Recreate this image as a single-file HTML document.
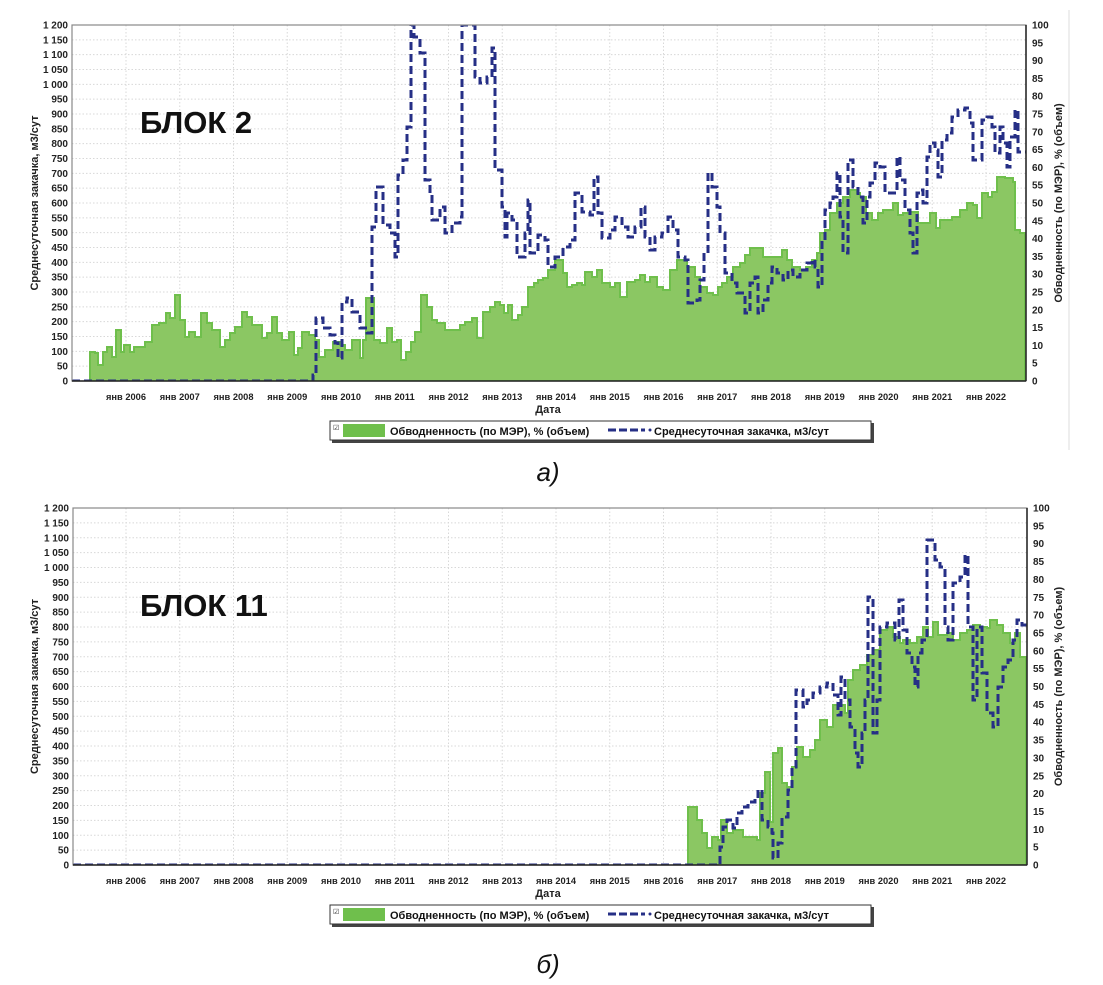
<!DOCTYPE html>
<html><head><meta charset="utf-8"><style>
html,body{margin:0;padding:0;background:#fff;}
svg{display:block;font-family:"Liberation Sans",sans-serif;}
</style></head><body>
<svg id="s" width="1103" height="985" xmlns="http://www.w3.org/2000/svg"></svg>
<script>
const S=document.getElementById('s');let h='';
const ga=[[90,352],[95,353],[98,365],[103,352],[107,347],[112,357],[116,330],[121,352],[124,345],[130,352],[134,347],[145,342],[152,325],[159,323],[166,313],[170,318],[175,295],[180,320],[185,337],[189,332],[195,337],[201,313],[207,323],[212,330],[220,347],[225,340],[230,333],[235,327],[242,312],[247,317],[252,325],[262,338],[267,333],[272,317],[277,333],[282,340],[289,332],[294,355],[298,348],[302,332],[309,335],[315,340],[319,357],[325,350],[333,342],[340,345],[345,350],[352,340],[360,358],[363,340],[366,298],[374,340],[380,343],[387,328],[392,342],[397,340],[401,360],[406,352],[411,342],[415,332],[421,295],[427,307],[432,320],[437,323],[445,330],[460,325],[465,322],[472,318],[477,338],[483,312],[490,307],[495,302],[500,305],[504,313],[508,305],[512,320],[518,315],[522,307],[528,287],[534,283],[538,280],[543,278],[548,270],[555,260],[563,273],[567,287],[572,285],[577,283],[582,285],[585,272],[592,277],[597,270],[602,283],[610,287],[615,283],[620,297],[627,282],[635,280],[640,275],[645,282],[650,277],[657,287],[663,290],[670,270],[677,260],[687,267],[695,277],[700,287],[707,293],[713,295],[718,287],[722,283],[727,277],[733,267],[740,263],[745,255],[750,248],[763,257],[777,257],[782,250],[787,260],[792,267],[800,270],[806,267],[812,260],[817,253],[820,233],[825,230],[830,213],[837,203],[843,197],[850,190],[857,193],[860,197],[866,213],[872,220],[878,213],[883,210],[893,203],[898,215],[903,213],[910,212],[918,223],[930,213],[936,228],[940,220],[952,217],[960,210],[967,203],[973,205],[977,218],[982,193],[988,197],[992,192],[997,177],[1005,178],[1013,182],[1015,230],[1020,233],[1025,233]];
const ba=[[72,381],[313,375],[316,318],[323,328],[330,335],[335,343],[338,358],[342,302],[347,298],[352,312],[360,328],[367,333],[372,227],[376,187],[383,225],[390,233],[395,257],[398,175],[403,160],[407,127],[411,25],[414,37],[420,53],[425,180],[430,193],[432,220],[440,207],[445,233],[452,223],[460,217],[462,25],[475,77],[480,83],[487,77],[492,48],[495,170],[502,207],[505,237],[507,213],[512,220],[517,257],[525,233],[528,200],[530,253],[538,235],[545,240],[548,267],[555,257],[563,247],[570,240],[575,193],[582,212],[590,215],[594,177],[598,213],[602,238],[610,230],[615,217],[622,227],[628,237],[635,227],[641,207],[645,237],[650,250],[655,237],[662,233],[668,217],[673,230],[678,257],[685,260],[688,303],[697,300],[700,280],[704,253],[708,173],[712,187],[717,207],[720,233],[725,273],[732,283],[737,293],[745,313],[750,283],[755,277],[758,313],[763,300],[768,283],[772,267],[777,273],[783,280],[788,270],[793,277],[800,270],[807,263],[812,260],[815,267],[818,287],[822,240],[825,210],[830,203],[833,197],[837,173],[840,217],[843,253],[848,160],[853,187],[858,197],[863,223],[867,197],[870,183],[875,163],[880,167],[885,193],[897,157],[900,180],[905,210],[910,233],[913,253],[917,193],[920,190],[923,203],[927,157],[930,143],[935,150],[938,177],[942,140],[947,133],[952,117],[958,110],[965,108],[970,123],[973,160],[982,120],[987,117],[992,127],[995,153],[1000,127],[1003,143],[1007,167],[1010,137],[1015,110],[1018,152],[1026,152]];
const gb=[[688,807],[697,820],[702,833],[707,848],[712,837],[718,840],[721,820],[727,833],[733,830],[743,837],[750,837],[757,840],[760,793],[765,772],[770,822],[773,753],[778,748],[782,783],[787,787],[792,767],[797,747],[803,757],[810,750],[815,740],[820,720],[827,727],[833,705],[845,713],[848,680],[853,670],[860,665],[867,655],[873,650],[880,630],[887,627],[893,637],[900,643],[903,640],[910,643],[917,637],[923,627],[928,637],[933,622],[938,635],[947,633],[953,640],[960,633],[967,630],[973,625],[980,627],[987,628],[990,620],[997,625],[1003,633],[1010,643],[1015,633],[1020,657],[1026,660]];
const bb=[[73,865],[720,847],[723,827],[727,820],[733,828],[737,813],[742,807],[748,802],[755,798],[758,790],[762,820],[768,827],[772,833],[773,858],[778,843],[782,817],[788,790],[792,767],[796,690],[803,707],[807,700],[813,693],[820,687],[827,683],[833,695],[838,715],[841,677],[845,700],[850,727],[855,753],[858,767],[862,733],[865,700],[868,597],[873,733],[877,700],[880,627],[887,623],[895,640],[899,600],[903,630],[907,653],[912,667],[915,687],[918,653],[922,640],[927,540],[935,560],[940,567],[945,627],[948,640],[953,583],[960,577],[965,555],[968,627],[973,700],[977,627],[982,673],[987,713],[993,727],[998,687],[1003,667],[1008,660],[1013,640],[1017,620],[1022,625],[1027,625]];
function area(p,bot,xe){let d='M'+p[0][0]+' '+bot;for(let i=0;i<p.length;i++){d+=' V'+p[i][1];d+=' H'+(i+1<p.length?p[i+1][0]:xe);}return d+' V'+bot+' Z';}
function line(p,xe){let d='M'+p[0][0]+' '+p[0][1];for(let i=0;i<p.length;i++){d+=' V'+p[i][1];d+=' H'+(i+1<p.length?p[i+1][0]:xe);}return d;}
function chart(top,bot,L,R,G,B,label,cap,yoff){
 const H=bot-top;
 h+=`<defs><clipPath id="c${top}"><rect x="${L}" y="${top}" width="${R-L}" height="${H}"/></clipPath></defs>`;
 for(let i=0;i<=24;i++){const y=bot-H*i/24;h+=`<line x1="${L}" x2="${R}" y1="${y}" y2="${y}" stroke="#d8d8d8" stroke-dasharray="1.5 2"/>`;
  let v=i*50;let t=v>=1000?'1 '+String(v-1000).padStart(3,'0'):String(v);
  h+=`<text x="${L-4}" y="${y+3.5}" font-size="10" font-weight="bold" text-anchor="end" fill="#222">${t}</text>`;}
 for(let i=0;i<=20;i++){const y=bot-H*i/20;h+=`<text x="${R+6}" y="${y+3.5}" font-size="10" font-weight="bold" fill="#222">${i*5}</text>`;}
 for(let yr=2006;yr<=2022;yr++){const x=126+(yr-2006)*53.75;h+=`<line x1="${x}" x2="${x}" y1="${top}" y2="${bot}" stroke="#d8d8d8" stroke-dasharray="1.5 2"/>`;
  h+=`<text x="${x}" y="${bot+19}" font-size="9.5" font-weight="bold" text-anchor="middle" fill="#222" textLength="40" lengthAdjust="spacingAndGlyphs">янв ${yr}</text>`;}
 h+=`<g clip-path="url(#c${top})"><path d="${area(G,bot,R-1)}" fill="#8bc763" stroke="#6fbf4c" stroke-width="2"/>
 <path d="${line(B,R)}" fill="none" stroke="#262f86" stroke-width="3" stroke-dasharray="8 4"/></g>`;
 h+=`<rect x="${L}" y="${top}" width="${R-L}" height="${H}" fill="none" stroke="#888" stroke-width="1.2"/>`;
 h+=`<line x1="${L}" x2="${R}" y1="${bot}" y2="${bot}" stroke="#222" stroke-width="1.5"/><line x1="${R}" x2="${R}" y1="${top}" y2="${bot}" stroke="#222" stroke-width="1.5"/>`;
 h+=`<text transform="translate(38,${(top+bot)/2}) rotate(-90)" font-size="11" font-weight="bold" text-anchor="middle" fill="#222">Среднесуточная закачка, м3/сут</text>`;
 h+=`<text transform="translate(1062,${(top+bot)/2}) rotate(-90)" font-size="11" font-weight="bold" text-anchor="middle" fill="#222">Обводненность (по МЭР), % (объем)</text>`;
 h+=`<text x="548" y="${bot+32}" font-size="11" font-weight="bold" text-anchor="middle" fill="#222">Дата</text>`;
 const ly=bot+40;
 h+=`<rect x="332" y="${ly+2}" width="542" height="20" fill="#444"/><rect x="330" y="${ly}" width="541" height="19" fill="#fff" stroke="#333"/>`;
 h+=`<text x="333" y="${ly+9}" font-size="7" fill="#333">☑</text><rect x="343" y="${ly+3}" width="42" height="13" fill="#6fbf4c"/>`;
 h+=`<text x="390" y="${ly+14}" font-size="11" font-weight="bold" fill="#111">Обводненность (по МЭР), % (объем)</text>`;
 h+=`<line x1="608" x2="645" y1="${ly+9}" y2="${ly+9}" stroke="#262f86" stroke-width="3" stroke-dasharray="8 3"/><circle cx="650" cy="${ly+9}" r="1.5" fill="#262f86"/>`;
 h+=`<text x="654" y="${ly+14}" font-size="11" font-weight="bold" fill="#111">Среднесуточная закачка, м3/сут</text>`;
 h+=`<text x="140" y="${top+108}" font-size="31" font-weight="bold" fill="#111">${label}</text>`;
 h+=`<text x="548" y="${cap}" font-size="26" font-style="italic" text-anchor="middle" fill="#111">${yoff}</text>`;
}
chart(25,381,72,1026,ga,ba,'БЛОК 2',481,'а)');
chart(508,865,73,1027,gb,bb,'БЛОК 11',973,'б)');
h+=`<line x1="1069" x2="1069" y1="10" y2="450" stroke="#ddd"/>`;
S.innerHTML=h;
</script>
</body></html>
